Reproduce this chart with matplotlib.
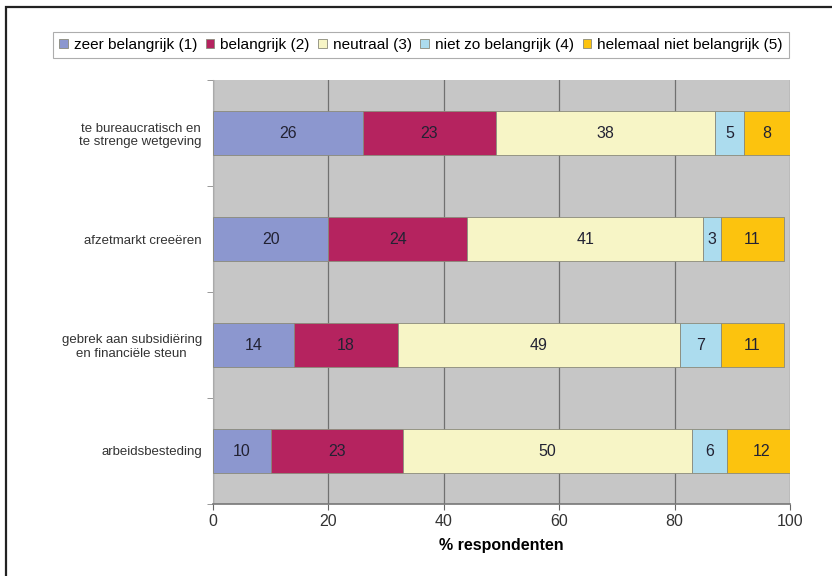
import matplotlib.pyplot as plt
from matplotlib.patches import Rectangle
import numpy as np

plt.rcParams['font.family'] = ['Liberation Sans', 'DejaVu Sans']

categories = ['te bureaucratisch en\nte strenge wetgeving',
              'afzetmarkt creeëren',
              'gebrek aan subsidiëring\nen financiële steun',
              'arbeidsbesteding']
series_names = ['zeer belangrijk (1)', 'belangrijk (2)', 'neutraal (3)',
                'niet zo belangrijk (4)', 'helemaal niet belangrijk (5)']
zeer_belangrijk = [26, 20, 14, 10]
belangrijk = [23, 24, 18, 23]
neutraal = [38, 41, 49, 50]
niet_zo_belangrijk = [5, 3, 7, 6]
helemaal_niet = [8, 11, 11, 12]
colors = ['#8c97cf', '#b5235f', '#f7f5c6', '#acdcee', '#fcc30e']

series = [zeer_belangrijk, belangrijk, neutraal, niet_zo_belangrijk, helemaal_niet]

fig = plt.figure(figsize=(8.32, 5.76), dpi=100)
ax = fig.add_axes([213 / 832, 1 - 504 / 576, 577 / 832, 424 / 576])
ax.set_facecolor('#c6c6c6')

# outer frame (runs off the right and bottom edges)
fig.patches.append(Rectangle((6 / 832, -0.1), 1.2, 1 - 7 / 576 + 0.1,
                             transform=fig.transFigure, fill=False,
                             edgecolor='#222222', linewidth=1.6))

y = np.arange(len(categories))
left = np.zeros(len(categories))
for name, vals, col in zip(series_names, series, colors):
    vals = np.array(vals, dtype=float)
    bars = ax.barh(y, vals, left=left, height=0.42, color=col,
                   edgecolor='#8a8a7a', linewidth=0.6, label=name, zorder=3)
    for rect, v in zip(bars, vals):
        ax.text(rect.get_x() + rect.get_width() / 2, rect.get_y() + rect.get_height() / 2,
                f'{v:.0f}', ha='center', va='center', fontsize=11.5,
                color='#222233', zorder=4)
    left += vals

ax.set_xlim(0, 100)
ax.set_ylim(len(categories) - 0.5, -0.5)
ax.set_xticks([0, 20, 40, 60, 80, 100])
ax.tick_params(axis='x', labelsize=11.5, colors='#333333', length=4, color='#666666')
ax.xaxis.grid(True, color='#707070', linewidth=0.9, zorder=0)
ax.set_axisbelow(True)

ax.set_yticks(y)
ax.set_yticklabels(categories, fontsize=9.5, color='#333333', multialignment='center')
ax.set_yticks(np.arange(len(categories) + 1) - 0.5, minor=True)
ax.tick_params(axis='y', which='major', length=0, pad=8)
ax.tick_params(axis='y', which='minor', length=4, color='#888888')

for side in ['top', 'right']:
    ax.spines[side].set_visible(False)
ax.spines['left'].set_color('#aaaaaa')
ax.spines['bottom'].set_color('#777777')
ax.spines['bottom'].set_linewidth(1.2)

ax.set_xlabel('% respondenten', fontsize=11.5, fontweight='bold', labelpad=6)

leg = fig.legend(loc='center', bbox_to_anchor=(421 / 832, 1 - 45 / 576), ncol=5,
                 fontsize=11.1, frameon=True, fancybox=False, handlelength=0.55,
                 handleheight=0.55, handletextpad=0.4, columnspacing=0.55,
                 borderpad=0.4, edgecolor='#999999')
leg.get_frame().set_linewidth(0.8)

fig.savefig('out.png', dpi=100)
